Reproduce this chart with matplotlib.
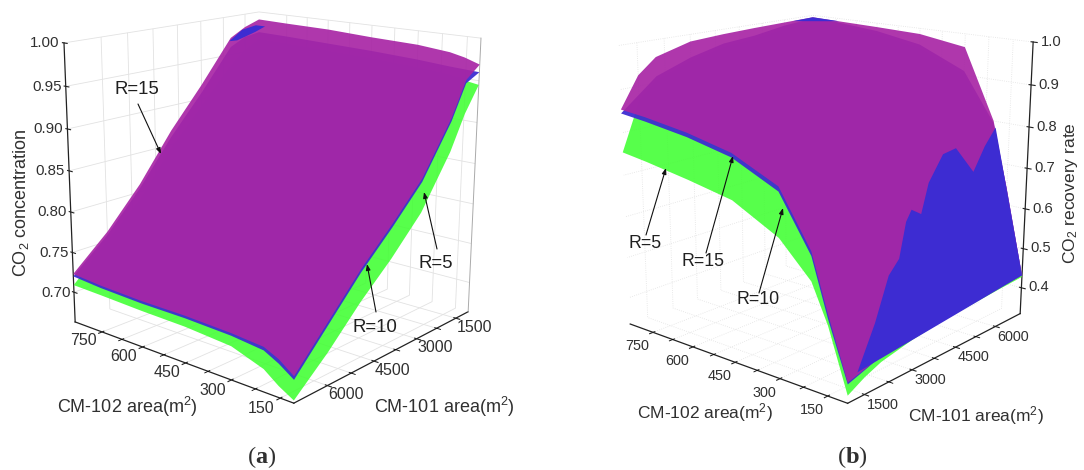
import numpy as np
import matplotlib
matplotlib.use("Agg")
import matplotlib.pyplot as plt
from mpl_toolkits.mplot3d.art3d import Poly3DCollection

plt.rcParams['font.family'] = ['Liberation Sans', 'DejaVu Sans']
plt.rcParams['mathtext.default'] = 'regular'
plt.rcParams['mathtext.fontset'] = 'custom'
plt.rcParams['mathtext.bf'] = 'Liberation Serif:bold'
plt.rcParams['mathtext.rm'] = 'Liberation Sans'

W, H = 1084, 470

GREEN, BLUE, MAGENTA = '#40FF32', '#3D2CD2', '#A826A5'

# ---------- data: panel (a) CO2 concentration ----------
a_cm102 = [110, 155, 200, 300, 450, 600, 750, 855]
a_cm101 = [1000, 1500, 2000, 3000, 4000, 5000, 6000, 7000]
a_r15 = [[.969, .955, .915, .855, .815, .778, .735, .692],
         [.975, .960, .925, .867, .825, .785, .745, .705],
         [.979, .965, .932, .875, .832, .790, .752, .713],
         [.983, .972, .945, .890, .845, .800, .760, .716],
         [.985, .977, .955, .902, .855, .805, .762, .718],
         [.988, .980, .964, .910, .862, .808, .763, .718],
         [.989, .982, .968, .915, .866, .810, .762, .720],
         [.990, .983, .972, .918, .868, .810, .762, .723]]
a_r10 = [[.960, .951, .911, .851, .811, .774, .731, .688],
         [.961, .953, .918, .861, .820, .780, .740, .700],
         [.962, .955, .925, .870, .828, .786, .748, .709],
         [.965, .960, .935, .880, .840, .796, .756, .713],
         [.968, .962, .945, .892, .848, .800, .758, .715],
         [.970, .965, .950, .900, .855, .803, .760, .715],
         [.972, .968, .955, .905, .858, .805, .758, .717],
         [.973, .970, .960, .908, .860, .805, .758, .720]]
a_r5 = [[.945, .915, .875, .815, .775, .740, .700, .665],
        [.948, .925, .888, .830, .787, .750, .712, .675],
        [.952, .935, .900, .845, .800, .760, .725, .688],
        [.955, .940, .910, .855, .815, .770, .735, .701],
        [.958, .945, .920, .870, .825, .780, .745, .705],
        [.960, .948, .925, .880, .835, .785, .750, .706],
        [.962, .950, .930, .885, .840, .790, .750, .708],
        [.963, .952, .935, .890, .845, .790, .750, .709]]
a_spot_cm102 = [855, 855, 835, 800, 800, 830]
a_spot_cm101 = [2050, 1600, 1300, 1300, 1650, 2000]
a_spot_z = [.968, .980, .985, .985, .980, .970]

# ---------- data: panel (b) CO2 recovery rate ----------
b_cm102 = [90, 150, 200, 300, 450, 600, 750, 840]
b_cm101 = [1000, 1500, 2000, 3000, 4000, 5000, 6000, 7000]
b_r15 = [[.379, .390, .402, .414, .420, .424, .428, .432],
         [.515, .540, .560, .590, .610, .625, .635, .640],
         [.640, .680, .710, .740, .760, .780, .790, .800],
         [.761, .820, .860, .900, .925, .945, .957, .968],
         [.810, .870, .905, .940, .960, .972, .980, .986],
         [.833, .900, .935, .960, .975, .983, .988, .990],
         [.848, .918, .952, .975, .983, .988, .991, .993],
         [.854, .925, .960, .983, .988, .991, .993, .995]]
b_r10 = [[.375, .388, .402, .414, .420, .424, .428, .432],
         [.505, .530, .550, .580, .600, .615, .630, .640],
         [.630, .665, .690, .720, .740, .760, .775, .795],
         [.750, .800, .830, .860, .880, .895, .905, .910],
         [.800, .845, .875, .905, .925, .940, .950, .960],
         [.823, .865, .895, .925, .945, .960, .970, .980],
         [.838, .875, .910, .940, .960, .970, .980, .990],
         [.845, .880, .915, .945, .965, .972, .985, .992]]
b_r5 = [[.350, .372, .388, .404, .413, .419, .424, .428],
        [.490, .520, .540, .570, .590, .605, .620, .630],
        [.575, .650, .680, .710, .730, .750, .765, .785],
        [.650, .780, .820, .850, .870, .885, .895, .900],
        [.706, .830, .865, .895, .915, .930, .940, .950],
        [.727, .850, .885, .915, .935, .950, .960, .970],
        [.745, .860, .900, .930, .950, .960, .970, .980],
        [.754, .865, .905, .935, .955, .962, .975, .982]]
# part of the R=10 surface lying above R=15
b_patch_cm102 = [92, 115, 138, 145, 163, 170, 163, 178, 193, 192, 177, 185, 193, 90]
b_patch_cm101 = [1300, 2050, 2700, 3100, 3500, 3750, 4000, 4400, 5050, 5500, 6000, 6500, 7000, 7000]
b_patch_z = [.39, .468, .55, .575, .645, .665, .65, .71, .76, .765, .70, .75, .785, .432]
b_top_cm102 = [840, 840, 740]
b_top_cm101 = [6300, 7000, 7000]
b_top_z = [.993, .995, .993]

x_ticks = [150, 300, 450, 600, 750]
x_minor = [225, 375, 525, 675]
y_ticks = [1500, 3000, 4500, 6000]
y_minor = [2250, 3750, 5250]
a_z_ticks = [.70, .75, .80, .85, .90, .95, 1.00]
b_z_ticks = [.4, .5, .6, .7, .8, .9, 1.0]


def panel_axes(x0, size):
    """Square 3D axes placed by pixels."""
    ax = fig.add_axes([x0 / W, (H / 2 - size / 2) / H, size / W, size / H],
                      projection='3d', computed_zorder=False)
    ax.patch.set_visible(False)
    return ax


def fit_projection(ax, lims, corners, depth):
    """Perspective matrix for the 3D axes from the picture of its box."""
    (x0, x1), (y0, y1), (z0, z1) = lims
    S = np.diag([1 / (x1 - x0), 1 / (y1 - y0), 1 / (z1 - z0), 1.0])
    S[:3, 3] = [-x0 / (x1 - x0), -y0 / (y1 - y0), -z0 / (z1 - z0)]
    A, b = [], []
    inv = ax.transData.inverted()
    for (nx, ny, nz), (px, py) in corners:
        u, v = inv.transform((px, H - py))
        A.append([nx, ny, nz, 1, 0, 0, 0, 0, -u * nx, -u * ny, -u * nz])
        b.append(u)
        A.append([0, 0, 0, 0, nx, ny, nz, 1, -v * nx, -v * ny, -v * nz])
        b.append(v)
    p = np.linalg.lstsq(np.array(A), np.array(b), rcond=None)[0]
    P = np.array([p[:4], p[4:8], depth, [p[8], p[9], p[10], 1.0]])
    M = P @ S
    ax.get_proj = lambda: M


def style_axes(ax, lims, zt, zfmt, grid_ls, sizes, pads, x_va):
    ax.set_xlim(*lims[0]); ax.set_ylim(*lims[1]); ax.set_zlim(*lims[2])
    ax.set_xticks(x_ticks); ax.set_yticks(y_ticks); ax.set_zticks(zt)
    ax.set_xticks(x_minor, minor=True); ax.set_yticks(y_minor, minor=True)
    ax.set_zticklabels([zfmt % v for v in zt])
    for name, size, pad in zip('xyz', sizes, pads):
        ax.tick_params(axis=name, labelsize=size, labelcolor='#303030', color='#222222', width=.7, pad=pad)
    plt.setp(ax.get_xticklabels(), ha='right', va=x_va)
    plt.setp(ax.get_yticklabels(), ha='left')
    plt.setp(ax.get_zticklabels(), va='center')
    for axis in (ax.xaxis, ax.yaxis, ax.zaxis):
        axis.set_pane_color((1, 1, 1, 0))
        axis.pane.set_edgecolor('#00000000')
        axis.line.set_color('#222222')
        axis.line.set_linewidth(.9)
        axis._axinfo['grid'].update(color='#e2e2e2', linewidth=.6, linestyle=grid_ls)


def outline(xs, ys, table):
    """Corners of a surface, walked round its four edges."""
    Z = np.array(table)
    nx, ny = Z.shape
    ring = ([(0, j) for j in range(ny)] + [(i, ny - 1) for i in range(1, nx)]
            + [(nx - 1, j) for j in range(ny - 2, -1, -1)] + [(i, 0) for i in range(nx - 2, 0, -1)])
    return [(xs[i], ys[j], Z[i, j]) for i, j in ring]


def draw_surfaces(ax, xs, ys, r5, r10, r15):
    for table, colour, alpha, zo in ((r5, GREEN, .88, 3), (r10, BLUE, .95, 4), (r15, MAGENTA, .92, 5)):
        ax.add_collection3d(Poly3DCollection([outline(xs, ys, table)], facecolor=colour, alpha=alpha,
                                             edgecolor='none', zorder=zo), autolim=False)


def add_patch(ax, xs, ys, zs):
    ax.add_collection3d(Poly3DCollection([list(zip(xs, ys, zs))], facecolor=BLUE,
                                         edgecolor='none', zorder=6), autolim=False)


def arrow(ax, text, text_xy, tail_xy, tip_xy, size):
    ax.annotate(text, xy=(tip_xy[0], H - tip_xy[1]), xycoords='figure pixels',
                xytext=(text_xy[0], H - text_xy[1]), textcoords='figure pixels',
                ha='center', va='center', fontsize=size, color='#202020', zorder=20, annotation_clip=False)
    ax.annotate('', xy=(tip_xy[0], H - tip_xy[1]), xycoords='figure pixels',
                xytext=(tail_xy[0], H - tail_xy[1]), textcoords='figure pixels', zorder=20,
                annotation_clip=False,
                arrowprops=dict(arrowstyle='-|>,head_width=.13,head_length=.35', color='#101010',
                                lw=.8, shrinkA=0, shrinkB=0))


def label(x, y, s, **kw):
    fig.text(x / W, 1 - y / H, s, ha='center', va='center', color='#303030', **kw)


fig = plt.figure(figsize=(W / 100, H / 100), dpi=100, facecolor='white')

# ---------- panel (a) ----------
ax_a = panel_axes(0, 520)
lims_a = ((a_cm102[0], a_cm102[-1]), (a_cm101[0], a_cm101[-1]), (.662, 1.0))
draw_surfaces(ax_a, a_cm102, a_cm101, a_r5, a_r10, a_r15)
add_patch(ax_a, a_spot_cm102, a_spot_cm101, a_spot_z)
style_axes(ax_a, lims_a, a_z_ticks, '%.2f', '-', (11.5, 11.5, 10.8), (-3, -7.2, .8), 'center')
ax_a.zaxis.set_ticks_position('upper')
fit_projection(ax_a, lims_a,
               [((1, 1, 0), (75, 322)), ((0, 1, 0), (294, 403)), ((0, 0, 0), (468, 312)),
                ((1, 0, 0), (259, 253)), ((1, 1, 1), (64, 43)), ((0, 0, 1), (481, 38)),
                ((1, 0, 1), (259, 12))],
               [1, -1, -.5, 0])
(x0, x1), (y0, y1), (z0, z1) = lims_a
ax_a.plot(*zip((x1, y1, z0), (x1, y0, z0), (x0, y0, z0)), color='#555555', lw=.7, zorder=1)
ax_a.plot(*zip((x1, y0, z0), (x1, y0, z1)), color='#888888', lw=.7, zorder=1)
ax_a.plot(*zip((x1, y1, z1), (x1, y0, z1), (x0, y0, z1), (x0, y0, z0)), color='#aaaaaa', lw=.7, zorder=1)
arrow(ax_a, 'R=15', (137, 90), (138, 104), (161, 154), 13.4)
arrow(ax_a, 'R=5', (436, 264), (437, 249), (424, 192), 13.4)
arrow(ax_a, 'R=10', (375, 328), (376, 312), (367, 264), 13.4)
label(21, 203, 'CO$_2$ concentration', rotation=90, fontsize=13)
label(127, 407, 'CM-102 area(m$^2$)', fontsize=13)
label(444, 407, 'CM-101 area(m$^2$)', fontsize=13)

# ---------- panel (b) ----------
ax_b = panel_axes(564, 520)
lims_b = ((b_cm102[0], b_cm102[-1]), (b_cm101[0], b_cm101[-1]), (.333, 1.0))
draw_surfaces(ax_b, b_cm102, b_cm101, b_r5, b_r10, b_r15)
add_patch(ax_b, b_patch_cm102, b_patch_cm101, b_patch_z)
add_patch(ax_b, b_top_cm102, b_top_cm101, b_top_z)
style_axes(ax_b, lims_b, b_z_ticks, '%.1f', ':', (10.4, 10.4, 10.6), (-4.4, -6.2, .6), 'top')
fit_projection(ax_b, lims_b,
               [((1, 0, 0), (630, 323)), ((0, 0, 0), (848, 404)), ((0, 1, 0), (1020, 313)),
                ((1, 1, 0), (813, 257)), ((1, 0, 1), (618, 46)), ((0, 1, 1), (1033, 42)),
                ((1, 1, 1), (813, 15))],
               [1, 1, -.5, 0])
(x0, x1), (y0, y1), (z0, z1) = lims_b
ax_b.plot(*zip((x1, y0, z0), (x1, y1, z0), (x0, y1, z0)), color='#555555', lw=.7, zorder=1)
ax_b.plot(*zip((x1, y1, z0), (x1, y1, z1)), color='#999999', lw=.7, zorder=1)
ax_b.plot(*zip((x1, y0, z1), (x1, y1, z1), (x0, y1, z1)), color='#555555', lw=.7, ls=':', zorder=1)
ax_b.plot(*zip((x1, y0, z0), (x1, y0, z1)), color='#777777', lw=.8, zorder=1)
arrow(ax_b, 'R=5', (645, 243), (646, 235), (666, 168), 12.8)
arrow(ax_b, 'R=15', (703, 262), (706, 253), (733, 156), 12.8)
arrow(ax_b, 'R=10', (758, 300), (759, 293), (783, 208), 12.8)
label(1071, 193, 'CO$_2$ recovery rate', rotation=90, fontsize=12.6)
label(705, 413, 'CM-102 area(m$^2$)', fontsize=12.5)
label(976, 416, 'CM-101 area(m$^2$)', fontsize=12.5)

label(262, 457, r'($\mathbf{a}$)', fontsize=17.5, family='Liberation Serif')
label(852, 457, r'($\mathbf{b}$)', fontsize=17.5, family='Liberation Serif')

fig.savefig('out.png', dpi=100)
